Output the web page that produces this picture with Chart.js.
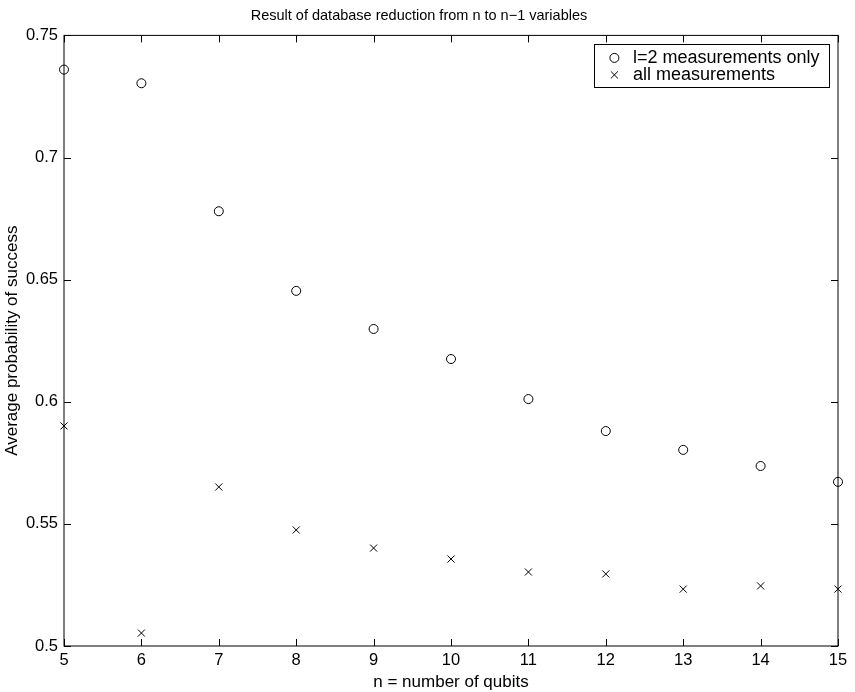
<!DOCTYPE html>
<html>
<head>
<meta charset="utf-8">
<script src="https://cdn.jsdelivr.net/npm/chart.js@4.4.1/dist/chart.umd.min.js"></script>
<style>
  html, body { margin: 0; padding: 0; background: #fff; }
  #wrap { width: 855px; height: 692px; }
</style>
</head>
<body>
<div id="wrap"><canvas id="plot" width="855" height="692"></canvas></div>
<script>
// data
const qubits = [5, 6, 7, 8, 9, 10, 11, 12, 13, 14, 15];
const l2Only = [0.736, 0.7304, 0.678, 0.6454, 0.6298, 0.6175, 0.6011, 0.588, 0.5803, 0.5737, 0.5672];
const allMeas = [0.5901, 0.5053, 0.5651, 0.5475, 0.5401, 0.5356, 0.5303, 0.5295, 0.5233, 0.5246, 0.5233];
const xTicks = [5, 6, 7, 8, 9, 10, 11, 12, 13, 14, 15];
const yTicks = [0.5, 0.55, 0.6, 0.65, 0.7, 0.75];

const FONT = "'Liberation Sans', Arial, Helvetica, sans-serif";

function toPoints(xs, ys) {
    return xs.map(function(x, i) { return { x: x, y: ys[i] }; });
}

// box around the axes with inward ticks on all four sides (matlab style)
const frameTicks = {
    id: 'frameTicks',
    afterDatasetsDraw(chart) {
        const ctx = chart.ctx;
        const a = chart.chartArea;
        const xs = chart.scales.x, ys = chart.scales.y;
        const len = 7;
        ctx.save();
        ctx.strokeStyle = '#000';
        ctx.lineWidth = 1;
        ctx.strokeRect(a.left, a.top, a.right - a.left, a.bottom - a.top);
        ctx.beginPath();
        xs.ticks.forEach(function(t) {
            const px = Math.round(xs.getPixelForValue(t.value)) + 0.5;
            ctx.moveTo(px, a.bottom); ctx.lineTo(px, a.bottom - len);
            ctx.moveTo(px, a.top); ctx.lineTo(px, a.top + len);
        });
        ys.ticks.forEach(function(t) {
            const py = Math.round(ys.getPixelForValue(t.value)) + 0.5;
            ctx.moveTo(a.left, py); ctx.lineTo(a.left + len, py);
            ctx.moveTo(a.right, py); ctx.lineTo(a.right - len, py);
        });
        ctx.stroke();
        ctx.restore();
    }
};

// legend box in the upper right corner of the axes
const boxLegend = {
    id: 'boxLegend',
    afterDraw(chart) {
        const ctx = chart.ctx;
        const a = chart.chartArea;
        const sets = chart.data.datasets;
        ctx.save();
        ctx.font = '18px ' + FONT;
        let tw = 0;
        sets.forEach(function(d) { tw = Math.max(tw, ctx.measureText(d.label).width); });
        const w = 39 + tw + 9.5;
        const h = 43;
        const right = a.right - 9;
        const top = a.top + 8.5;
        const left = right - w;
        ctx.fillStyle = '#fff';
        ctx.fillRect(left, top, w, h);
        ctx.strokeStyle = '#000';
        ctx.lineWidth = 1;
        ctx.strokeRect(Math.round(left) + 0.5, Math.round(top) + 0.5, Math.round(w), h);
        sets.forEach(function(d, i) {
            const cy = top + 14 + i * 17;
            Chart.helpers.drawPoint(ctx, {
                pointStyle: d.pointStyle,
                radius: d.pointRadius,
                borderWidth: 1
            }, left + 20.5, cy);
            ctx.fillStyle = '#000';
            ctx.textBaseline = 'middle';
            ctx.textAlign = 'left';
            ctx.fillText(d.label, left + 39, cy);
        });
        ctx.restore();
    }
};

new Chart(document.getElementById('plot').getContext('2d'), {
    type: 'scatter',
    data: {
        datasets: [{
            label: 'l=2 measurements only',
            data: toPoints(qubits, l2Only),
            pointStyle: 'circle',
            pointRadius: 4.5,
            pointBorderWidth: 1,
            borderColor: '#000',
            backgroundColor: 'rgba(0,0,0,0)',
            pointBackgroundColor: 'rgba(0,0,0,0)',
            clip: false
        }, {
            label: 'all measurements',
            data: toPoints(qubits, allMeas),
            pointStyle: 'crossRot',
            pointRadius: 5,
            pointBorderWidth: 1,
            borderColor: '#000',
            backgroundColor: '#000',
            clip: false
        }]
    },
    options: {
        responsive: false,
        animation: false,
        events: [],
        layout: { padding: { left: 0, right: 17, top: 0, bottom: 0 } },
        plugins: {
            legend: { display: false },
            tooltip: { enabled: false },
            title: {
                display: true,
                text: 'Result of database reduction from n to n\u22121 variables',
                color: '#000',
                font: { family: FONT, size: 14.5, weight: 'normal' },
                padding: { top: 7, bottom: 11 }
            }
        },
        scales: {
            x: {
                type: 'linear',
                min: 5,
                max: 15,
                grid: { display: false, drawTicks: false },
                border: { display: false },
                afterBuildTicks: function(scale) {
                    scale.ticks = xTicks.map(function(v) { return { value: v }; });
                },
                afterFit: function(scale) { scale.height = 46; },
                ticks: {
                    color: '#000',
                    padding: 5,
                    maxRotation: 0,
                    font: { family: FONT, size: 16.5 }
                },
                title: {
                    display: true,
                    text: 'n = number of qubits',
                    color: '#000',
                    font: { family: FONT, size: 17 },
                    padding: { top: 0, bottom: -1 }
                }
            },
            y: {
                type: 'linear',
                min: 0.5,
                max: 0.75,
                grid: { display: false, drawTicks: false },
                border: { display: false },
                afterBuildTicks: function(scale) {
                    scale.ticks = yTicks.map(function(v) { return { value: v }; });
                },
                afterFit: function(scale) { scale.width = 64; },
                ticks: {
                    color: '#000',
                    padding: 6,
                    font: { family: FONT, size: 16.5 },
                    callback: function(v) { return String(v); }
                },
                title: {
                    display: true,
                    text: 'Average probability of success',
                    color: '#000',
                    font: { family: FONT, size: 17 },
                    padding: { top: 2.3, bottom: 0 }
                }
            }
        }
    },
    plugins: [frameTicks, boxLegend]
});
</script>
</body>
</html>
